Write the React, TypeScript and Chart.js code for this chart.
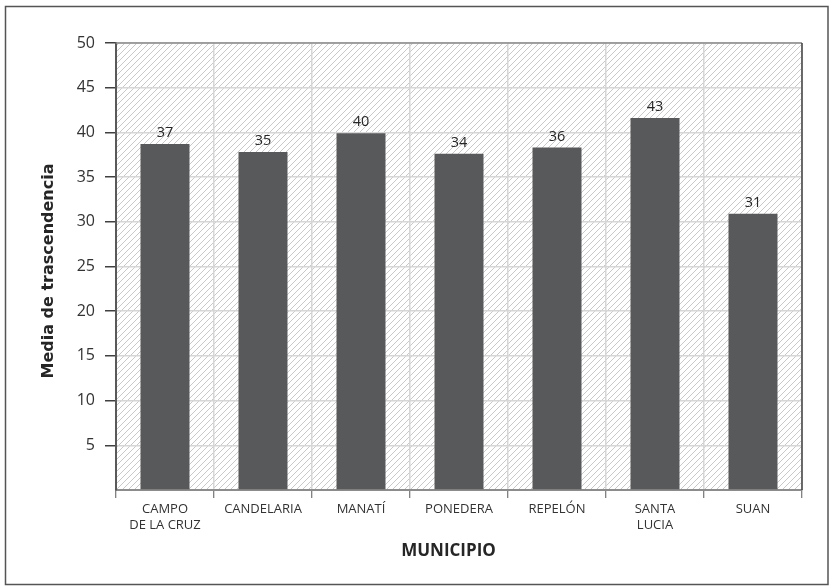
import React, { useEffect, useRef } from 'react';
import { Chart, registerables } from 'chart.js';

Chart.register(...registerables);

const categories: (string | string[])[] = [
  ['CAMPO', 'DE LA CRUZ'],
  'CANDELARIA',
  'MANATÍ',
  'PONEDERA',
  'REPELÓN',
  ['SANTA', 'LUCIA'],
  'SUAN',
];
const barValues = [38.7, 37.8, 39.9, 37.6, 38.3, 41.6, 30.9];
const barLabels = ['37', '35', '40', '34', '36', '43', '31'];
const yTicksMin = 0;
const yTicksMax = 50;
const yTickStep = 5;
const xTitle = 'MUNICIPIO';
const yTitle = 'Media de trascendencia';

const W = 829;
const H = 587;

function makeHatch(): CanvasPattern | string {
  const c = document.createElement('canvas');
  c.width = 6;
  c.height = 6;
  const g = c.getContext('2d');
  if (!g) return '#f0f0f0';
  g.fillStyle = '#ffffff';
  g.fillRect(0, 0, 6, 6);
  g.strokeStyle = '#c8c8c8';
  g.lineWidth = 1;
  g.beginPath();
  g.moveTo(0, 6);
  g.lineTo(6, 0);
  g.moveTo(-1, 1);
  g.lineTo(1, -1);
  g.moveTo(5, 7);
  g.lineTo(7, 5);
  g.stroke();
  const p = g.createPattern(c, 'repeat');
  return p || '#f0f0f0';
}

export default function App() {
  const ref = useRef<HTMLCanvasElement | null>(null);

  useEffect(() => {
    const canvas = ref.current;
    if (!canvas) return;
    const hatch = makeHatch();

    const decor = {
      id: 'decor',
      beforeDraw(chart: any) {
        const { ctx, chartArea: a } = chart;
        ctx.save();
        ctx.fillStyle = '#ffffff';
        ctx.fillRect(0, 0, W, H);
        ctx.fillStyle = hatch;
        ctx.fillRect(a.left, a.top, a.right - a.left, a.bottom - a.top);
        ctx.restore();
      },
      afterDraw(chart: any) {
        const { ctx, chartArea: a } = chart;
        ctx.save();
        ctx.lineWidth = 1.5;
        ctx.strokeStyle = '#8a8a8a';
        ctx.beginPath();
        ctx.moveTo(a.left, a.top);
        ctx.lineTo(a.right, a.top);
        ctx.stroke();
        ctx.strokeStyle = '#404040';
        ctx.beginPath();
        ctx.moveTo(a.right, a.top);
        ctx.lineTo(a.right, a.bottom);
        ctx.stroke();
        ctx.lineWidth = 1.5;
        ctx.strokeStyle = '#555555';
        ctx.strokeRect(5.5, 6.5, 822.5, 578);
        ctx.fillStyle = '#262626';
        ctx.font = 'bold 17px "Open Sans"';
        ctx.textAlign = 'center';
        ctx.textBaseline = 'alphabetic';
        ctx.fillText(xTitle, 448.5, 556);
        ctx.translate(53, 271);
        ctx.rotate(-Math.PI / 2);
        ctx.font = 'bold 16px "DejaVu Sans"';
        ctx.fillText(yTitle, 0, 0);
        ctx.restore();
      },
      afterDatasetsDraw(chart: any) {
        const { ctx } = chart;
        const meta = chart.getDatasetMeta(0);
        ctx.save();
        ctx.fillStyle = '#262626';
        ctx.font = '14.5px "Open Sans"';
        ctx.textAlign = 'center';
        ctx.textBaseline = 'alphabetic';
        meta.data.forEach((el: any, i: number) => {
          ctx.fillText(barLabels[i], el.x, el.y - 7);
        });
        ctx.restore();
      },
    };

    const chart = new Chart(canvas, {
      type: 'bar',
      data: {
        labels: categories,
        datasets: [
          {
            data: barValues,
            backgroundColor: '#58595b',
            borderWidth: 0,
            categoryPercentage: 1,
            barPercentage: 0.5,
          },
        ],
      },
      options: {
        responsive: false,
        animation: false,
        devicePixelRatio: 1,
        layout: { padding: { left: 0, right: 27, top: 43, bottom: 0 } },
        plugins: {
          legend: { display: false },
          tooltip: { enabled: false },
          title: { display: false },
        },
        scales: {
          x: {
            offset: true,
            grid: {
              offset: true,
              color: '#d6d6d6',
              lineWidth: 1.5,
              tickLength: 8,
              tickColor: '#595959',
              tickWidth: 1,
            },
            border: { color: '#8c8c8c', width: 2 },
            ticks: {
              color: '#333333',
              font: { family: '"Open Sans"', size: 13, lineHeight: 1.23 },
              padding: 3,
              maxRotation: 0,
              autoSkip: false,
            },
            afterFit(s: any) {
              s.height = H - 490;
            },
          },
          y: {
            min: yTicksMin,
            max: yTicksMax,
            grid: {
              color: '#d6d6d6',
              lineWidth: 1.5,
              tickLength: 11,
              tickColor: (ctx: any) => (ctx.tick && ctx.tick.value === 0 ? 'rgba(0,0,0,0)' : '#404040'),
              tickWidth: 1.5,
            },
            border: { color: '#595959', width: 2 },
            ticks: {
              stepSize: yTickStep,
              color: '#333333',
              font: { family: '"Open Sans"', size: 16 },
              padding: 10,
              callback: (v: any) => (Number(v) === 0 ? '' : String(v)),
            },
            afterFit(s: any) {
              s.width = 116;
            },
          },
        },
      },
      plugins: [decor],
    });

    return () => {
      chart.destroy();
    };
  }, []);

  return (
    <div style={{ position: 'fixed', left: 0, top: 0, width: W, height: H, background: '#fff' }}>
      <canvas ref={ref} width={W} height={H} style={{ width: W, height: H, display: 'block' }} />
    </div>
  );
}
